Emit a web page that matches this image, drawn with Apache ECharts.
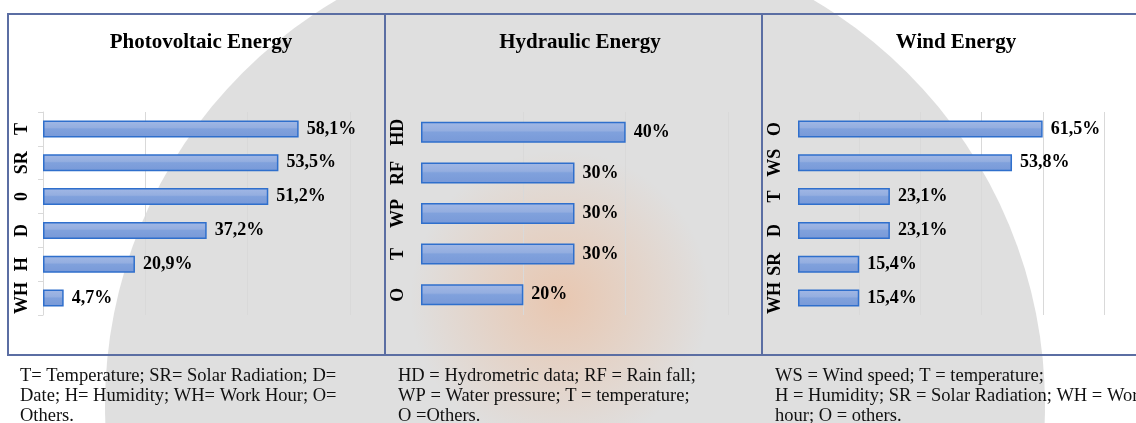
<!DOCTYPE html>
<html>
<head>
<meta charset="utf-8">
<title>Energy factors</title>
<script src="https://cdn.jsdelivr.net/npm/echarts@6/dist/echarts.min.js"></script>
<style>
  html, body { margin: 0; padding: 0; background: #fff; }
  #chart { width: 1136px; height: 423px; }
</style>
</head>
<body>
<div id="chart"></div>
<script>
// panel titles
const titles = ["Photovoltaic Energy", "Hydraulic Energy", "Wind Energy"];

// photovoltaic
const pvCategories = ["T", "SR", "0", "D", "H", "WH"];
const pvValues = [58.1, 53.5, 51.2, 37.2, 20.9, 4.7];
const pvStep = 23.256;
const pvMax = 69.77;

// hydraulic
const hyCategories = ["HD", "RF", "WP", "T", "O"];
const hyValues = [40, 30, 30, 30, 20];
const hyStep = 20;
const hyMax = 60;

// wind
const wiCategories = ["O", "WS", "T", "D", "SR", "WH"];
const wiValues = [61.5, 53.8, 23.1, 23.1, 15.4, 15.4];
const wiStep = 15.385;
const wiMax = 76.92;

// footnotes under each panel
const notes = [
  "T= Temperature; SR= Solar Radiation; D=\nDate; H= Humidity; WH= Work Hour; O=\nOthers.",
  "HD = Hydrometric data; RF = Rain fall;\nWP = Water pressure; T = temperature;\nO =Others.",
  "WS = Wind speed; T = temperature;\nH = Humidity; SR = Solar Radiation; WH = Work\nhour; O = others."
];

const serif = "Liberation Serif";
const borderColor = "#5b6ea3";

const barFill = new echarts.graphic.LinearGradient(0, 0, 0, 1, [
  { offset: 0, color: "#a2b8e5" },
  { offset: 0.42, color: "#94aee0" },
  { offset: 0.5, color: "#80a1dc" },
  { offset: 1, color: "#7899d8" }
]);

const fmt = (p) => String(p.value).replace(".", ",") + "%";

function xAxisFor(i, max, step) {
  return {
    type: "value",
    gridIndex: i,
    min: 0,
    max: max,
    interval: step,
    axisLabel: { show: false },
    axisLine: { show: false },
    axisTick: { show: false },
    splitLine: { show: true, showMinLine: false, lineStyle: { color: "#d9d9d9", width: 1 } }
  };
}

function yAxisFor(i, cats, withLine) {
  return {
    type: "category",
    gridIndex: i,
    inverse: true,
    data: cats,
    axisLine: { show: withLine, lineStyle: { color: "#d9d9d9" } },
    axisTick: { show: withLine, length: 5, lineStyle: { color: "#d9d9d9" } },
    axisLabel: {
      interval: 0,
      rotate: 90,
      margin: withLine ? 12 : 14,
      fontFamily: serif,
      fontWeight: "bold",
      fontSize: 18,
      color: "#000"
    }
  };
}

function barSeries(i, values, width) {
  return {
    type: "bar",
    xAxisIndex: i,
    yAxisIndex: i,
    data: values,
    barWidth: width,
    itemStyle: { color: barFill, borderColor: "#2f6fcc", borderWidth: 1.5 },
    label: {
      show: true,
      position: "right",
      distance: 8,
      formatter: fmt,
      fontFamily: serif,
      fontWeight: "bold",
      fontSize: 18,
      color: "#000"
    }
  };
}

const titleX = [196, 575, 951];
const noteX = [20, 398, 775];

const chart = echarts.init(document.getElementById("chart"), null, { renderer: "canvas" });

chart.setOption({
  backgroundColor: "#fff",
  animation: false,
  title: titles.map((t, i) => ({
    text: t,
    left: titleX[i],
    top: 27,
    textAlign: "center",
    textStyle: { fontFamily: serif, fontWeight: "bold", fontSize: 21, color: "#000" }
  })),
  grid: [
    { left: 43, top: 112, width: 307, height: 203 },
    { left: 421, top: 112, width: 307, height: 203 },
    { left: 798, top: 112, width: 306, height: 203 }
  ],
  xAxis: [xAxisFor(0, pvMax, pvStep), xAxisFor(1, hyMax, hyStep), xAxisFor(2, wiMax, wiStep)],
  yAxis: [yAxisFor(0, pvCategories, true), yAxisFor(1, hyCategories, false), yAxisFor(2, wiCategories, false)],
  series: [barSeries(0, pvValues, 17), barSeries(1, hyValues, 21), barSeries(2, wiValues, 17)],
  graphic: [
    // faint watermark behind everything
    { type: "circle", z: -20, silent: true, shape: { cx: 575, cy: 405, r: 470 }, style: { fill: "#dfdfdf" } },
    {
      type: "circle", z: -19, silent: true, shape: { cx: 560, cy: 300, r: 150 },
      style: {
        fill: new echarts.graphic.RadialGradient(0.5, 0.5, 0.5, [
          { offset: 0, color: "rgba(244,170,120,0.45)" },
          { offset: 1, color: "rgba(244,170,120,0)" }
        ])
      }
    },
    // table lines
    { type: "line", z: 10, shape: { x1: 7, y1: 14, x2: 1136, y2: 14 }, style: { stroke: borderColor, lineWidth: 2 } },
    { type: "line", z: 10, shape: { x1: 7, y1: 355, x2: 1136, y2: 355 }, style: { stroke: borderColor, lineWidth: 2 } },
    { type: "line", z: 10, shape: { x1: 8, y1: 14, x2: 8, y2: 355 }, style: { stroke: borderColor, lineWidth: 2 } },
    { type: "line", z: 10, shape: { x1: 385, y1: 14, x2: 385, y2: 355 }, style: { stroke: borderColor, lineWidth: 2 } },
    { type: "line", z: 10, shape: { x1: 762, y1: 14, x2: 762, y2: 355 }, style: { stroke: borderColor, lineWidth: 2 } },
    // footnotes
    ...notes.map((n, i) => ({
      type: "text",
      z: 10,
      left: noteX[i],
      top: 366,
      style: { text: n, fontFamily: serif, fontSize: 18.5, lineHeight: 20, fill: "#111" }
    }))
  ]
});
</script>
</body>
</html>
